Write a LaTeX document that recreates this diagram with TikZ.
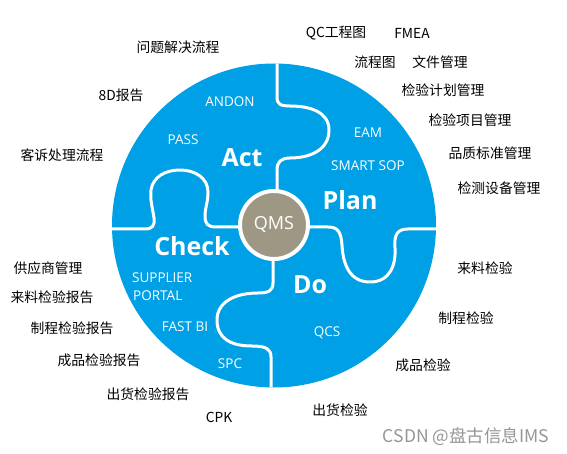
\documentclass[tikz,border=0pt]{standalone}
\usepackage{fontspec}
\setmainfont{Open Sans}
\newfontfamily\cjk{Noto Sans CJK SC}
\definecolor{qblue}{RGB}{0,160,230}
\definecolor{qgray}{RGB}{158,151,132}
\definecolor{wmark}{RGB}{150,150,150}
\begin{document}
\begin{tikzpicture}[x=1pt,y=-1pt,
  lbl/.style={font=\cjk\fontsize{13.8}{16}\selectfont, text=black, inner sep=0pt},
  inlbl/.style={font=\fontsize{13.5}{15}\selectfont, text=white, inner sep=0pt},
  big/.style={font=\bfseries\fontsize{25}{30}\selectfont, text=white, inner sep=0pt},
  seam/.style={draw=white, line width=3pt, line join=round}]
\useasboundingbox (0,0) rectangle (567,454);
\fill[qblue] (274,225.5) circle[radius=162pt];
\begin{scope}
\clip (274,225.5) circle[radius=162pt];
% top seam
\draw[seam] (277,55) -- (277,97) .. controls (277,104) and (280,106) .. (290,106)
  .. controls (310,106) and (329,112) .. (329,130)
  .. controls (329,150) and (310,158) .. (290,158)
  .. controls (281,158) and (277,162) .. (277,170) -- (277,200);
% right seam
\draw[seam] (300,227) -- (328,227) .. controls (338,227) and (341,232) .. (342,245)
  .. controls (343,265) and (350,282) .. (370,282)
  .. controls (390,282) and (396,265) .. (395,248)
  .. controls (394,235) and (397,229) .. (408,229) -- (445,229);
% bottom seam
\draw[seam] (273,250) -- (273,283) .. controls (273,291) and (268,293) .. (258,293)
  .. controls (235,293) and (217,302) .. (217,320)
  .. controls (217,338) and (230,346) .. (252,346)
  .. controls (266,346) and (271,349) .. (271,357) -- (271,395);
% left seam
\draw[seam] (105,229) -- (145,229) .. controls (152,229) and (155,226) .. (154,218)
  .. controls (152,205) and (150,200) .. (151,190)
  .. controls (153,177) and (165,170) .. (180,170)
  .. controls (195,170) and (208,178) .. (208,192)
  .. controls (208,202) and (205,208) .. (205,216)
  .. controls (205,224) and (208,227) .. (216,227) -- (245,227);
\end{scope}
\node[circle, fill=qgray, draw=white, line width=4pt, minimum size=68pt, inner sep=0pt,
  font=\fontsize{18}{20}\selectfont, text=white] (qms) at (274,225) {QMS};

% big words
\node[big] (act) at (242,158) {Act};
\node[big] (plan) at (350,200) {Plan};
\node[big] (check) at (192,246) {Check};
\node[big] (do) at (310,285) {Do};

% inner labels
\node[inlbl] (andon) at (230,102) {ANDON};
\node[inlbl] (pass) at (183,140) {PASS};
\node[inlbl] (eam) at (368,133) {EAM};
\node[inlbl] (sop) at (368,166) {SMART SOP};
\node[inlbl, anchor=west] (supp) at (132,278) {SUPPLIER};
\node[inlbl, anchor=west] (portal) at (133,296) {PORTAL};
\node[inlbl] (fastbi) at (185,327) {FAST BI};
\node[inlbl] (qcs) at (327,333) {QCS};
\node[inlbl] (spc) at (230,364) {SPC};

% outer labels
\node[lbl] (l1) at (178,47) {问题解决流程};
\node[lbl] (l2) at (336,33) {QC工程图};
\node[lbl] (l3) at (412,33) {FMEA};
\node[lbl] (l4) at (375,62) {流程图};
\node[lbl] (l5) at (440,62) {文件管理};
\node[lbl] (l6) at (121,95) {8D报告};
\node[lbl] (l7) at (443,90) {检验计划管理};
\node[lbl] (l8) at (470,120) {检验项目管理};
\node[lbl] (l9) at (62,155) {客诉处理流程};
\node[lbl] (l10) at (490,153) {品质标准管理};
\node[lbl] (l11) at (499,188) {检测设备管理};
\node[lbl] (l12) at (48,268) {供应商管理};
\node[lbl] (l13) at (52,297) {来料检验报告};
\node[lbl] (l14) at (72,328) {制程检验报告};
\node[lbl] (l15) at (99,360) {成品检验报告};
\node[lbl] (l16) at (148,394) {出货检验报告};
\node[lbl] (l17) at (219,417) {CPK};
\node[lbl] (l18) at (340,410) {出货检验};
\node[lbl] (l19) at (485,268) {来料检验};
\node[lbl] (l20) at (466,318) {制程检验};
\node[lbl] (l21) at (423,365) {成品检验};
\node[font=\cjk\fontsize{17.5}{19}\selectfont, text=wmark, inner sep=0pt] (wm) at (466,437) {CSDN @盘古信息IMS};
\end{tikzpicture}
\end{document}
